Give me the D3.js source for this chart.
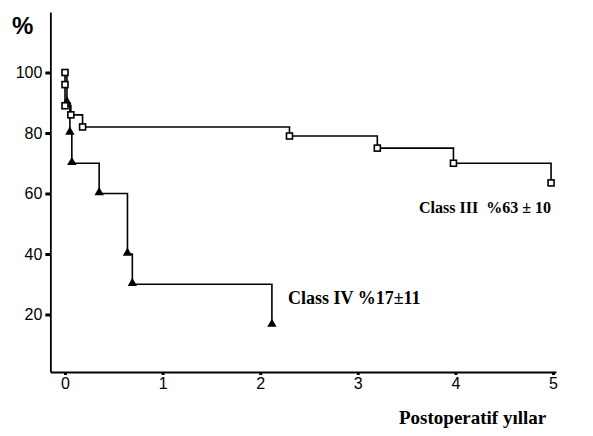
<!DOCTYPE html>
<html>
<head>
<meta charset="utf-8">
<script src="https://cdn.jsdelivr.net/npm/d3@7"></script>
<style>
   body { margin: 0; background: #fff; }
   svg { display: block; }
   .tick text { font-family: "Liberation Sans", Arial, sans-serif; font-size: 16px; fill: #000; }
   .lbl { font-family: "Liberation Serif", "Times New Roman", serif; font-weight: bold; fill: #000; }
</style>
</head>
<body>
<div id="chart"></div>
<script>

// DATA (KAPLAN-MEIER STEPS, YEARS / % SURVIVAL)
var class3Years = [0, 0, 0, 0.06, 0.18, 2.3, 3.2, 3.98, 4.98];
var class3Surv = [100, 96, 89, 86, 82, 79, 75, 70, 63.5];
var class4Years = [0, 0.02, 0.05, 0.07, 0.35, 0.64, 0.69, 2.12];
var class4Surv = [100, 90, 80, 70, 60, 40, 30, 16.5];

var xTicks = [0, 1, 2, 3, 4, 5];
var yTicks = [20, 40, 60, 80, 100];

var class3Label = 'Class III  %63 \u00b1 10';
var class4Label = 'Class IV %17\u00b111';
var xTitle = 'Postoperatif y\u0131llar';
var yTitle = '%';

// CANVAS
var width = 593, height = 436;

var svg = d3.select('#chart').append('svg')
   .attr('width', width)
   .attr('height', height);

// SCALES
var xScale = d3.scaleLinear()
   .domain([0, 5])
   .range([65, 553]);

var yScale = d3.scaleLinear()
   .domain([0, 100])
   .range([375, 72.5]);

// AXIS EXTENTS (AXES CROSS SLIGHTLY LEFT OF 0 AND ABOVE 0)
var xMin = -0.15, xMax = 5.03;
var yMin = 1, yMax = 120;

var xAxisScale = d3.scaleLinear().domain([xMin, xMax]).range([xScale(xMin), xScale(xMax)]);
var yAxisScale = d3.scaleLinear().domain([yMin, yMax]).range([yScale(yMin), yScale(yMax)]);

// Y AXIS
svg.append('g')
   .attr('transform', 'translate(' + xScale(xMin) + ',0)')
   .call(d3.axisLeft(yAxisScale).tickValues(yTicks).tickSize(5).tickSizeOuter(0).tickPadding(3));

// X AXIS
svg.append('g')
   .attr('transform', 'translate(0,' + yScale(yMin) + ')')
   .call(d3.axisBottom(xAxisScale).tickValues(xTicks).tickFormat(d3.format('d'))
      .tickSize(3).tickSizeOuter(0).tickPadding(3));

svg.selectAll('.domain')
   .attr('stroke', '#000')
   .attr('stroke-width', 1.8);

svg.selectAll('.tick line')
   .attr('stroke', '#000')
   .attr('stroke-width', 3);

// STEP LINE GENERATOR
var step = d3.line()
   .x(function (d) { return xScale(d[0]); })
   .y(function (d) { return yScale(d[1]); })
   .curve(d3.curveStepAfter);

var class3 = d3.zip(class3Years, class3Surv);
var class4 = d3.zip(class4Years, class4Surv);

// CURVES
svg.append('path')
   .attr('fill', 'none')
   .attr('stroke', '#000')
   .attr('stroke-width', 1.6)
   .attr('d', step(class4));

svg.append('path')
   .attr('fill', 'none')
   .attr('stroke', '#000')
   .attr('stroke-width', 1.6)
   .attr('d', step(class3));

// TRIANGLE MARKERS (CLASS IV)
var tri = d3.symbol().type(d3.symbolTriangle).size(38);

svg.selectAll('.tri')
   .data(class4.slice(1))
      .enter().append('path')
         .attr('class', 'tri')
         .attr('d', tri)
         .attr('fill', '#000')
         .attr('transform', function (d) { return 'translate(' + xScale(d[0]) + ',' + (yScale(d[1]) - 1) + ')'; });

// SQUARE MARKERS (CLASS III)
svg.selectAll('.sq')
   .data(class3)
      .enter().append('rect')
         .attr('class', 'sq')
         .attr('x', function (d) { return xScale(d[0]) - 3; })
         .attr('y', function (d) { return yScale(d[1]) - 3; })
         .attr('width', 6)
         .attr('height', 6)
         .attr('fill', '#fff')
         .attr('stroke', '#000')
         .attr('stroke-width', 1.6);

// LABELS
svg.append('text')
   .attr('x', 12)
   .attr('y', 34)
   .attr('font-family', '"Liberation Sans", Arial, sans-serif')
   .attr('font-weight', 'bold')
   .attr('font-size', 24)
   .text(yTitle);

svg.append('text')
   .attr('class', 'lbl')
   .attr('x', 419)
   .attr('y', 213)
   .attr('font-size', 16)
   .style('white-space', 'pre')
   .text(class3Label);

svg.append('text')
   .attr('class', 'lbl')
   .attr('x', 288)
   .attr('y', 304)
   .attr('font-size', 18)
   .text(class4Label);

svg.append('text')
   .attr('class', 'lbl')
   .attr('x', 399)
   .attr('y', 424)
   .attr('font-size', 19)
   .text(xTitle);

</script>
</body>
</html>
